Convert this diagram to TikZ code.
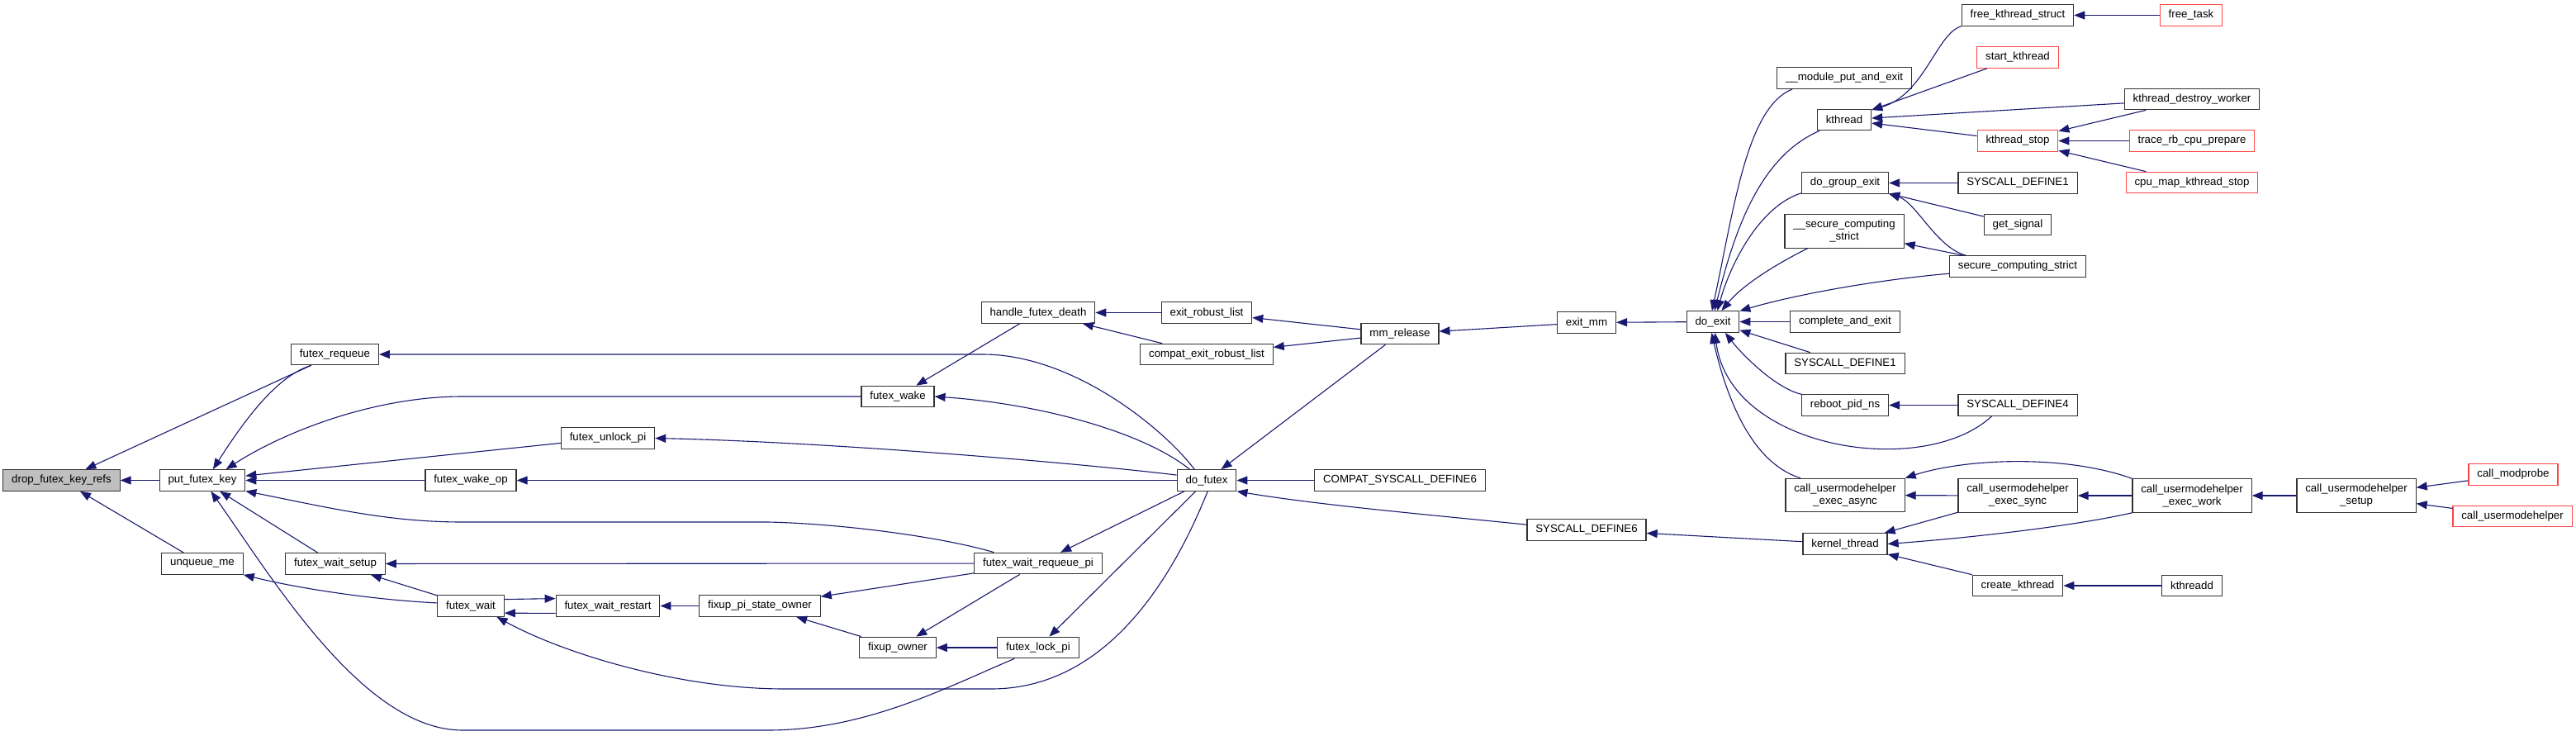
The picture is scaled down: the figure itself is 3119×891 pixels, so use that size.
\documentclass[tikz,border=0pt]{standalone}
\usepackage{fontspec}
\setmainfont{Liberation Sans}
\usetikzlibrary{arrows.meta}
\definecolor{edgeblue}{RGB}{25,25,112}
\definecolor{linkred}{RGB}{255,68,68}
\definecolor{rootgray}{RGB}{191,191,191}

\begin{document}
\begin{tikzpicture}[x=1pt,y=-1pt,
  fn/.style={draw=black!80,line width=1.2pt,fill=white,minimum height=25.5pt,inner xsep=10.35pt,inner ysep=6.5pt,align=center,font=\fontsize{13.3}{15}\selectfont},
  ext/.style={fn,draw=linkred},
  call/.style={draw=edgeblue,line width=1.1pt,arrows={Triangle[length=13pt,width=10pt]-}}]
	\useasboundingbox (0,0) rectangle (3119,891);
	\node[fn,fill=rootgray] (drop) at (74.5,581.5) {drop\_futex\_key\_refs};
	\node[fn] (put) at (245,581.5) {put\_futex\_key};
	\node[fn] (unqueue) at (245,682.5) {unqueue\_me};
	\node[fn] (frequeue) at (405.5,429) {futex\_requeue};
	\node[fn] (fwsetup) at (406,682.5) {futex\_wait\_setup};
	\node[fn] (fwakeop) at (570,581.5) {futex\_wake\_op};
	\node[fn] (fwait) at (570,733.5) {futex\_wait};
	\node[fn] (funlock) at (736,530.5) {futex\_unlock\_pi};
	\node[fn] (fwrestart) at (736,733.5) {futex\_wait\_restart};
	\node[fn] (fixpso) at (920,733.5) {fixup\_pi\_state\_owner};
	\node[fn] (fwake) at (1087,480) {futex\_wake};
	\node[fn] (fixowner) at (1087,784) {fixup\_owner};
	\node[fn] (hfd) at (1257,378.5) {handle\_futex\_death};
	\node[fn] (fwrp) at (1257,682) {futex\_wait\_requeue\_pi};
	\node[fn] (flock) at (1257,784) {futex\_lock\_pi};
	\node[fn] (erl) at (1461,378.5) {exit\_robust\_list};
	\node[fn] (cerl) at (1461,429) {compat\_exit\_robust\_list};
	\node[fn] (dofutex) at (1461,581.5) {do\_futex};
	\node[fn] (mmrel) at (1695,404) {mm\_release};
	\node[fn] (compsd6) at (1695,581.5) {COMPAT\_SYSCALL\_DEFINE6};
	\node[fn] (exitmm) at (1921,390.5) {exit\_mm};
	\node[fn] (sd6) at (1921,641.5) {SYSCALL\_DEFINE6};
	\node[fn] (doexit) at (2074,389.5) {do\_exit};
	\node[fn] (mpae) at (2233,94.5) {\_\_module\_put\_and\_exit};
	\node[fn] (kthread) at (2233,145) {kthread};
	\node[fn] (dge) at (2234,221.5) {do\_group\_exit};
	\node[fn] (scs) at (2233,280) {\_\_secure\_computing\\\_strict};
	\node[fn] (cae) at (2234,389.5) {complete\_and\_exit};
	\node[fn] (sd1b) at (2234,440) {SYSCALL\_DEFINE1};
	\node[fn] (rpn) at (2234,490.5) {reboot\_pid\_ns};
	\node[fn] (cuea) at (2234,599.5) {call\_usermodehelper\\\_exec\_async};
	\node[fn] (kt) at (2234,658.5) {kernel\_thread};
	\node[fn] (fks) at (2443,18.5) {free\_kthread\_struct};
	\node[ext] (sk) at (2443,69.5) {start\_kthread};
	\node[ext] (ks) at (2443,170.5) {kthread\_stop};
	\node[fn] (sd1a) at (2443,221.5) {SYSCALL\_DEFINE1};
	\node[fn] (gs) at (2443,272) {get\_signal};
	\node[fn] (scs2) at (2443,322.5) {secure\_computing\_strict};
	\node[fn] (sd4) at (2443,490.5) {SYSCALL\_DEFINE4};
	\node[fn] (cues) at (2443,600) {call\_usermodehelper\\\_exec\_sync};
	\node[fn] (ck) at (2443,709) {create\_kthread};
	\node[ext] (ftask) at (2653,18.5) {free\_task};
	\node[fn] (kdw) at (2654,120) {kthread\_destroy\_worker};
	\node[ext] (trcp) at (2654,170.5) {trace\_rb\_cpu\_prepare};
	\node[ext] (cmks) at (2654,221) {cpu\_map\_kthread\_stop};
	\node[fn] (cuew) at (2654,600) {call\_usermodehelper\\\_exec\_work};
	\node[fn] (kthreadd) at (2654,709) {kthreadd};
	\node[fn] (cus) at (2853,600) {call\_usermodehelper\\\_setup};
	\node[ext] (cmod) at (3043,574.5) {call\_modprobe};
	\node[ext] (cuh) at (3042,625) {call\_usermodehelper};
	% futex side
	\draw[call] (drop) -- (put);
	\draw[call] (drop) -- (frequeue);
	\draw[call] (drop) -- (unqueue);
	\draw[call] (put.46) .. controls (295,510) and (335,455) .. (frequeue.-155);
	\draw[call] (put.25) .. controls (340,525) and (450,480) .. (560,480) -- (fwake);
	\draw[call] (put) -- (funlock);
	\draw[call] (put) -- (fwakeop);
	\draw[call] (put.-14) .. controls (400,615) and (470,632) .. (560,632) -- (930,632) .. controls (1020,634) and (1140,650) .. (fwrp.166);
	\draw[call] (put) -- (fwsetup);
	\draw[call] (put.-52) .. controls (330,700) and (440,884) .. (560,884) -- (930,884) .. controls (1050,884) and (1150,830) .. (flock.-155);
	\draw[call] (frequeue.east) -- (1190,429) .. controls (1300,429) and (1410,520) .. (dofutex.138);
	\draw[call] (unqueue.-15) .. controls (360,712) and (450,726) .. (fwait.175);
	\draw[call] (fwsetup) -- (fwait);
	\draw[call] (fwsetup) -- (fwrp);
	\draw[call] (fwrestart.172) -- (fwait.11);
	\draw[call] (fwait.-12) -- (fwrestart.-172);
	\draw[call] (fwait.-23) .. controls (680,790) and (820,834) .. (950,834) -- (1200,834) .. controls (1340,834) and (1420,700) .. (dofutex.-85);
	\draw[call] (fwrestart) -- (fixpso);
	\draw[call] (fixpso) -- (fwrp);
	\draw[call] (fixpso) -- (fixowner);
	\draw[call] (fixowner) -- (fwrp);
	\draw[call] (fixowner) -- (flock);
	\draw[call] (fwake) -- (hfd);
	\draw[call] (fwake.east) .. controls (1250,488) and (1380,520) .. (dofutex.147);
	\draw[call] (funlock.east) .. controls (1000,535) and (1300,560) .. (dofutex.170);
	\draw[call] (fwakeop) -- (dofutex);
	\draw[call] (fwrp) -- (dofutex);
	\draw[call] (flock) -- (dofutex);
	\draw[call] (hfd) -- (erl);
	\draw[call] (hfd) -- (cerl);
	\draw[call] (erl) -- (mmrel);
	\draw[call] (cerl) -- (mmrel);
	\draw[call] (dofutex) -- (mmrel);
	\draw[call] (dofutex) -- (compsd6);
	\draw[call] (dofutex.-20) .. controls (1600,612) and (1750,625) .. (sd6.175);
	\draw[call] (mmrel) -- (exitmm);
	\draw[call] (exitmm) -- (doexit);
	\draw[call] (sd6) -- (kt);
	% exit side
	\draw[call] (doexit.95) .. controls (2100,250) and (2115,130) .. (mpae.-168);
	\draw[call] (doexit.82) .. controls (2100,280) and (2130,190) .. (kthread.-156);
	\draw[call] (doexit.68) .. controls (2095,320) and (2130,250) .. (dge.-167);
	\draw[call] (doexit.52) .. controls (2110,345) and (2150,320) .. (scs.-155);
	\draw[call] (doexit.22) .. controls (2180,355) and (2280,338) .. (scs2.186);
	\draw[call] (doexit) -- (cae);
	\draw[call] (doexit) -- (sd1b);
	\draw[call] (doexit.-42) .. controls (2110,430) and (2150,470) .. (rpn.166);
	\draw[call] (doexit.-80) .. controls (2095,545) and (2330,580) .. (sd4.-157);
	\draw[call] (doexit.-97) .. controls (2090,480) and (2120,560) .. (cuea.159);
	\draw[call] (kthread.20) .. controls (2330,115) and (2345,40) .. (fks.-169);
	\draw[call] (kthread) -- (sk);
	\draw[call] (kthread) -- (kdw);
	\draw[call] (kthread) -- (ks);
	\draw[call] (fks) -- (ftask);
	\draw[call] (ks) -- (kdw);
	\draw[call] (ks) -- (trcp);
	\draw[call] (ks) -- (cmks);
	\draw[call] (dge) -- (sd1a);
	\draw[call] (dge) -- (gs);
	\draw[call] (dge.-14) .. controls (2320,245) and (2345,300) .. (scs2.168);
	\draw[call] (scs) -- (scs2);
	\draw[call] (rpn) -- (sd4);
	\draw[call] (kt) -- (cues);
	\draw[call] (kt.east) .. controls (2400,650) and (2520,635) .. (cuew.-164);
	\draw[call] (kt) -- (ck);
	\draw[call] (cuea) -- (cues);
	\draw[call] (cuea.north east) .. controls (2380,555) and (2500,550) .. (cuew.north west);
	\draw[call] (cues) -- (cuew);
	\draw[call] (cuew) -- (cus);
	\draw[call] (cus) -- (cmod);
	\draw[call] (cus) -- (cuh);
	\draw[call] (ck) -- (kthreadd);
\end{tikzpicture}
\end{document}
